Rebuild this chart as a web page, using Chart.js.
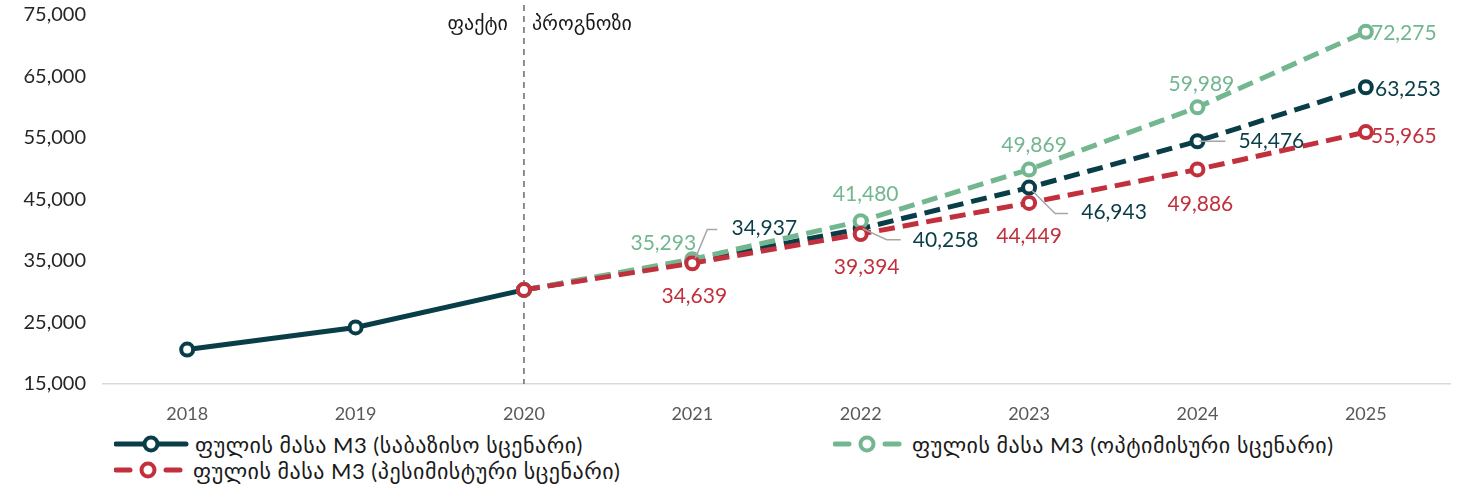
<!DOCTYPE html>
<html>
<head>
<meta charset="utf-8">
<script src="https://cdn.jsdelivr.net/npm/chart.js@4.4.1/dist/chart.umd.min.js"></script>
<style>
  html,body{margin:0;padding:0;background:#fff;}
  #wrap{position:relative;width:1460px;height:490px;}
  #box{position:absolute;left:0;top:0;width:1460px;height:430px;}
  .leg{position:absolute;display:flex;align-items:center;font-family:"Lato","DejaVu Sans",sans-serif;font-size:22px;letter-spacing:0.5px;color:#1a1a1a;white-space:nowrap;height:26px;}
  .leg svg{margin-right:5px;}
</style>
</head>
<body>
<div id="wrap">
  <div id="box"><canvas id="c"></canvas></div>
  <div class="leg" id="leg0" style="left:114px;top:431px;"></div>
  <div class="leg" id="leg1" style="left:833px;top:431px;"></div>
  <div class="leg" id="leg2" style="left:114px;top:457px;"></div>
</div>
<script>
// ---- data ----
const years = ['2018','2019','2020','2021','2022','2023','2024','2025'];
const baseline    = [20600, 24200, 30300, 34937, 40258, 46943, 54476, 63253];
const optimistic  = [null, null, 30300, 35293, 41480, 49869, 59989, 72275];
const pessimistic = [null, null, 30300, 34639, 39394, 44449, 49886, 55965];
const yTicks = [15000, 25000, 35000, 45000, 55000, 65000, 75000];
const seriesNames = [
  'ფულის მასა M3 (საბაზისო სცენარი)',
  'ფულის მასა M3 (ოპტიმისური სცენარი)',
  'ფულის მასა M3 (პესიმისტური სცენარი)'
];
const noteLeft = 'ფაქტი';
const noteRight = 'პროგნოზი';
const splitIndex = 2; // last actual year (2020)

// ---- styles ----
const C_BASE = '#093e48', C_OPT = '#72b78f', C_PES = '#c1303c';
const DASH = [16, 8];
const labelCfg = [
  { color: C_BASE, pos: {3:[72,-33], 4:[85,12], 5:[85,25], 6:[74,0], 7:[42,2]},
    lead: {3:[[3,-3],[15,-32],[25,-32]], 4:[[2,0],[26,11],[40,11]], 5:[[3,3],[26,26],[39,26]], 6:[[2,0],[28,0]]} },
  { color: C_OPT, pos: {3:[-29,-16], 4:[5,-27], 5:[5,-24], 6:[4,-23], 7:[38,1]}, lead: {} },
  { color: C_PES, pos: {3:[2,33], 4:[6,33], 5:[0,33], 6:[3,35], 7:[38,4]}, lead: {} }
];

const labelsPlugin = {
  id: 'valueLabels',
  afterDatasetsDraw(chart) {
    const ctx = chart.ctx;
    ctx.save();
    labelCfg.forEach((cfg, di) => {
      const meta = chart.getDatasetMeta(di);
      Object.keys(cfg.lead).forEach(k => {
        const p = meta.data[k];
        const pts = cfg.lead[k];
        ctx.beginPath();
        ctx.strokeStyle = '#a6a6a6';
        ctx.lineWidth = 1.5;
        ctx.setLineDash([]);
        pts.forEach((q, i) => { const x = p.x + q[0], y = p.y + q[1]; i ? ctx.lineTo(x, y) : ctx.moveTo(x, y); });
        ctx.stroke();
      });
    });
    ctx.font = '21px Lato, "DejaVu Sans", sans-serif';
    ctx.textAlign = 'center';
    ctx.textBaseline = 'middle';
    labelCfg.forEach((cfg, di) => {
      const meta = chart.getDatasetMeta(di);
      const data = chart.data.datasets[di].data;
      Object.keys(cfg.pos).forEach(k => {
        const p = meta.data[k];
        const v = data[k];
        if (v == null) return;
        ctx.fillStyle = cfg.color;
        ctx.fillText(v.toLocaleString('en-US'), p.x + cfg.pos[k][0], p.y + cfg.pos[k][1]);
      });
    });
    ctx.restore();
  }
};

const splitPlugin = {
  id: 'splitLine',
  beforeDatasetsDraw(chart) {
    const ctx = chart.ctx, x = chart.scales.x.getPixelForValue(splitIndex);
    const a = chart.chartArea;
    ctx.save();
    ctx.strokeStyle = '#6b6b6b';
    ctx.lineWidth = 1.5;
    ctx.setLineDash([6, 5]);
    ctx.beginPath();
    ctx.moveTo(x, a.top - 10);
    ctx.lineTo(x, a.bottom);
    ctx.stroke();
    ctx.setLineDash([]);
    ctx.fillStyle = '#1a1a1a';
    ctx.font = '20px "DejaVu Sans", sans-serif';
    ctx.textBaseline = 'middle';
    ctx.textAlign = 'right';
    ctx.fillText(noteLeft, x - 16, a.top + 10);
    ctx.textAlign = 'left';
    ctx.fillText(noteRight, x + 8, a.top + 10);
    ctx.restore();
  }
};

const pointStyle = (c) => ({
  borderColor: c, pointBorderColor: c, pointBackgroundColor: '#fff',
  pointRadius: 6, pointBorderWidth: 4, pointHoverRadius: 6, borderWidth: 5,
  fill: false, tension: 0
});

new Chart(document.getElementById('c'), {
  type: 'line',
  data: {
    labels: years,
    datasets: [
      Object.assign({ label: seriesNames[0], data: baseline, order: 2,
        segment: { borderDash: c => c.p0DataIndex >= splitIndex ? DASH : [] } }, pointStyle(C_BASE)),
      Object.assign({ label: seriesNames[1], data: optimistic, order: 1, borderDash: DASH }, pointStyle(C_OPT)),
      Object.assign({ label: seriesNames[2], data: pessimistic, order: 0, borderDash: DASH }, pointStyle(C_PES))
    ]
  },
  options: {
    responsive: true,
    maintainAspectRatio: false,
    animation: false,
    layout: { padding: { top: 15, right: 9, left: 0, bottom: 0 } },
    plugins: { legend: { display: false }, tooltip: { enabled: false } },
    scales: {
      x: {
        offset: true,
        grid: { display: false, drawTicks: false },
        border: { display: true, color: '#d9d9d9', width: 1.5 },
        ticks: { color: '#595959', font: { family: 'Lato', size: 18 }, padding: 19, maxRotation: 0 },
        afterFit(s) { s.height = 46; }
      },
      y: {
        min: 15000, max: 75000,
        grid: { display: false, drawTicks: false },
        border: { display: false },
        afterBuildTicks(s) { s.ticks = yTicks.map(v => ({ value: v })); },
        ticks: { color: '#262626', font: { family: 'Lato', size: 20 }, padding: 17,
          callback: v => v.toLocaleString('en-US') },
        afterFit(s) { s.width = 103; s.paddingTop = 0; s.paddingBottom = 0; }
      }
    }
  },
  plugins: [splitPlugin, labelsPlugin]
});

// ---- legend (HTML) ----
function sym(color, dashed) {
  const line = dashed
    ? `<line x1="2" y1="10" x2="16" y2="10" stroke="${color}" stroke-width="5" stroke-linecap="round"/>
       <line x1="52" y1="10" x2="66" y2="10" stroke="${color}" stroke-width="5" stroke-linecap="round"/>`
    : `<line x1="2" y1="10" x2="72" y2="10" stroke="${color}" stroke-width="5" stroke-linecap="round"/>`;
  const cx = dashed ? 34 : 37;
  return `<svg width="${dashed ? 74 : 76}" height="20">${line}<circle cx="${cx}" cy="10" r="6.5" fill="#fff" stroke="${color}" stroke-width="4"/></svg>`;
}
const legCols = [[C_BASE,false],[C_OPT,true],[C_PES,true]];
legCols.forEach((c, i) => {
  document.getElementById('leg' + i).innerHTML = sym(c[0], c[1]) + '<span>' + seriesNames[i] + '</span>';
});
</script>
</body>
</html>
